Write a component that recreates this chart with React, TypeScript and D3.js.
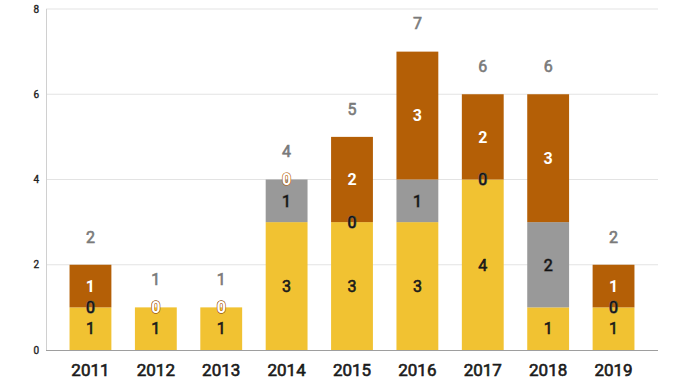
import React from "react";
import * as d3 from "d3";

const years = ["2011", "2012", "2013", "2014", "2015", "2016", "2017", "2018", "2019"];
const yellowValues = [1, 1, 1, 3, 3, 3, 4, 1, 1];
const greyValues = [0, 0, 0, 1, 0, 1, 0, 2, 0];
const brownValues = [1, 0, 0, 0, 2, 3, 2, 3, 1];
const yTicks = [0, 2, 4, 6, 8];

const seriesList = [
  { key: "yellow", values: yellowValues, color: "#f1c232", text: "#1a1a1a", stroke: "#1a1a1a", sw: 0.6, weight: 400 },
  { key: "grey", values: greyValues, color: "#999999", text: "#111111", stroke: "#555555", sw: 1.1, weight: 400 },
  { key: "brown", values: brownValues, color: "#b45f06", text: "#ffffff", stroke: "#b45f06", sw: 1.2, weight: 700 },
];

const W = 680;
const H = 382;
const left = 46;
const right = 658;
const top = 9;
const bottom = 350;

export default function App() {
  const x = d3.scaleBand<string>().domain(years).range([left, right]).paddingInner(0.36).paddingOuter(0.36);
  const y = d3.scaleLinear().domain([0, 8]).range([bottom, top]);

  const rows = years.map((yr, i) => {
    const r: any = { year: yr };
    seriesList.forEach((s) => (r[s.key] = s.values[i]));
    return r;
  });
  const stack = d3.stack<any>().keys(seriesList.map((s) => s.key))(rows);
  const totals = years.map((_, i) => seriesList.reduce((a, s) => a + s.values[i], 0));
  const font = "Roboto, 'Noto Sans', sans-serif";

  return (
    <svg width={W} height={H} style={{ position: "absolute", left: 0, top: 0, background: "#fff" }} fontFamily={font}>
      {yTicks.map((t) => (
        <g key={t}>
          {t > 0 && <line x1={left} x2={right} y1={y(t)} y2={y(t)} stroke="#e3e3e3" strokeWidth={1} />}
          <text x={39} y={y(t)} dy="0.35em" textAnchor="end" fontSize={10} fontWeight={400} fill="#222" stroke="#222" strokeWidth={0.35}>
            {t}
          </text>
        </g>
      ))}
      <line x1={left + 0.5} x2={left + 0.5} y1={top} y2={bottom} stroke="#d0d0d0" />
      {stack.map((layer, si) => (
        <g key={layer.key}>
          {layer.map((d, i) => (
            <rect
              key={i}
              x={x(years[i])}
              width={x.bandwidth()}
              y={y(d[1])}
              height={y(d[0]) - y(d[1])}
              fill={seriesList[si].color}
            />
          ))}
        </g>
      ))}
      <line x1={left} x2={right} y1={bottom + 0.5} y2={bottom + 0.5} stroke="#9e9e9e" />
      {stack.map((layer, si) => (
        <g key={"l" + layer.key}>
          {layer.map((d, i) => (
            <text
              key={i}
              x={(x(years[i]) as number) + x.bandwidth() / 2}
              y={y((d[0] + d[1]) / 2)}
              dy="0.36em"
              textAnchor="middle"
              fontSize={16}
              fontWeight={seriesList[si].weight}
              fill={seriesList[si].text}
              stroke={seriesList[si].stroke}
              strokeWidth={seriesList[si].sw}
              paintOrder="stroke"
            >
              {seriesList[si].values[i]}
            </text>
          ))}
        </g>
      ))}
      {totals.map((t, i) => (
        <text
          key={i}
          x={(x(years[i]) as number) + x.bandwidth() / 2}
          y={y(t) - 28}
          dy="0.36em"
          textAnchor="middle"
          fontSize={16}
          fontWeight={400}
          fill="#7a7a7a"
          stroke="#7a7a7a"
          strokeWidth={0.6}
        >
          {t}
        </text>
      ))}
      {years.map((yr) => (
        <text
          key={yr}
          x={(x(yr) as number) + x.bandwidth() / 2}
          y={370}
          dy="0.36em"
          textAnchor="middle"
          fontSize={17}
          fontWeight={400}
          fill="#1a1a1a"
          stroke="#1a1a1a"
          strokeWidth={0.6}
        >
          {yr}
        </text>
      ))}
    </svg>
  );
}
